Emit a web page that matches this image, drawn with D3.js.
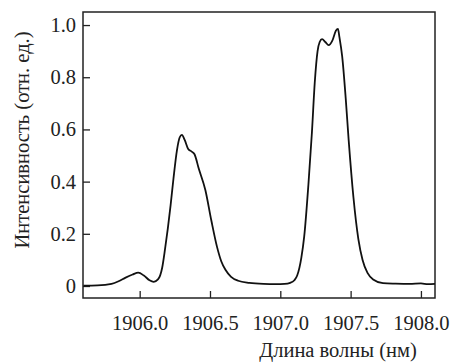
<!DOCTYPE html>
<html>
<head>
<meta charset="utf-8">
<script src="https://cdn.jsdelivr.net/npm/d3@7/dist/d3.min.js"></script>
<style>
  body { margin: 0; background: #fff; }
  text { font-family: 'Liberation Serif'; }
</style>
</head>
<body>
<div id="chart"></div>
<script>
// wavelength (nm) and intensity (rel. units)
const wavelength = [
  1905.60, 1905.70, 1905.80, 1905.85, 1905.90, 1905.95, 1905.99, 1906.03, 1906.07, 1906.10,
  1906.13, 1906.16, 1906.18, 1906.20, 1906.22, 1906.24, 1906.265, 1906.285, 1906.30, 1906.32,
  1906.345, 1906.37, 1906.39, 1906.42, 1906.467, 1906.51, 1906.55, 1906.58, 1906.61, 1906.65,
  1906.70, 1906.78, 1906.88, 1906.97, 1907.03, 1907.07, 1907.10, 1907.12, 1907.15, 1907.17,
  1907.20, 1907.225, 1907.245, 1907.265, 1907.28, 1907.297, 1907.32, 1907.344, 1907.37, 1907.395,
  1907.41, 1907.42, 1907.44, 1907.465, 1907.486, 1907.52, 1907.555, 1907.585, 1907.62, 1907.66,
  1907.73, 1907.82, 1907.92, 1908.00, 1908.05, 1908.10
];
const intensity = [
  0.001, 0.002, 0.008, 0.018, 0.032, 0.044, 0.051, 0.040, 0.022, 0.016,
  0.025, 0.070, 0.140, 0.220, 0.310, 0.410, 0.520, 0.570, 0.579, 0.560,
  0.525, 0.515, 0.505, 0.450, 0.368, 0.250, 0.150, 0.095, 0.062, 0.035,
  0.020, 0.012, 0.008, 0.007, 0.008, 0.012, 0.022, 0.040, 0.110, 0.190,
  0.390, 0.590, 0.780, 0.900, 0.935, 0.946, 0.935, 0.923, 0.940, 0.978,
  0.985, 0.955, 0.880, 0.720, 0.560, 0.340, 0.180, 0.100, 0.050, 0.025,
  0.011, 0.009, 0.008, 0.010, 0.007, 0.008
];
const xTicks = [1906.0, 1906.5, 1907.0, 1907.5, 1908.0];
const yTicks = [0, 0.2, 0.4, 0.6, 0.8, 1.0];
const xTitle = "Длина волны (нм)";
const yTitle = "Интенсивность (отн. ед.)";

const width = 451, height = 363;
const margin = { top: 12, right: 16, bottom: 65, left: 83 };
const iw = width - margin.left - margin.right;
const ih = height - margin.top - margin.bottom;

const svg = d3.select("#chart").append("svg")
  .attr("width", width)
  .attr("height", height)
  .style("font-family", "Liberation Serif");

const g = svg.append("g").attr("transform", `translate(${margin.left},${margin.top})`);

const x = d3.scaleLinear().domain([1905.597, 1908.10]).range([0, iw]);
const y = d3.scaleLinear().domain([-0.046, 1.05]).range([ih, 0]);

// frame
g.append("rect")
  .attr("width", iw).attr("height", ih)
  .attr("fill", "none").attr("stroke", "#222").attr("stroke-width", 1.5);

// axes, ticks pointing inward
const xAxis = g.append("g")
  .attr("transform", `translate(0,${ih})`)
  .call(d3.axisBottom(x).tickValues(xTicks).tickSize(-7).tickPadding(17).tickFormat(d3.format(".1f")));
const yAxis = g.append("g")
  .call(d3.axisLeft(y).tickValues(yTicks).tickSize(-7).tickPadding(7)
    .tickFormat(d => d === 0 ? "0" : d3.format(".1f")(d)));

[xAxis, yAxis].forEach(a => {
  a.attr("font-family", null).attr("font-size", null);
  a.select(".domain").remove();
  a.selectAll(".tick line").attr("stroke", "#222").attr("stroke-width", 1.3);
  a.selectAll(".tick text")
    .attr("fill", "#222")
    .attr("font-size", 20.5)
    .style("font-family", "Liberation Serif");
});

// curve
const pts = wavelength.map((w, i) => [w, intensity[i]]);
g.append("path")
  .datum(pts)
  .attr("fill", "none")
  .attr("stroke", "#111")
  .attr("stroke-width", 1.8)
  .attr("d", d3.line().x(d => x(d[0])).y(d => y(d[1])).curve(d3.curveMonotoneX));

// axis titles
svg.append("text")
  .attr("x", 338).attr("y", 357)
  .attr("text-anchor", "middle")
  .attr("fill", "#222")
  .attr("font-size", 20.5)
  .style("font-family", "Liberation Serif")
  .text(xTitle);

svg.append("text")
  .attr("transform", "translate(29,140) rotate(-90)")
  .attr("text-anchor", "middle")
  .attr("fill", "#222")
  .attr("font-size", 20.5)
  .style("font-family", "Liberation Serif")
  .text(yTitle);
</script>
</body>
</html>
